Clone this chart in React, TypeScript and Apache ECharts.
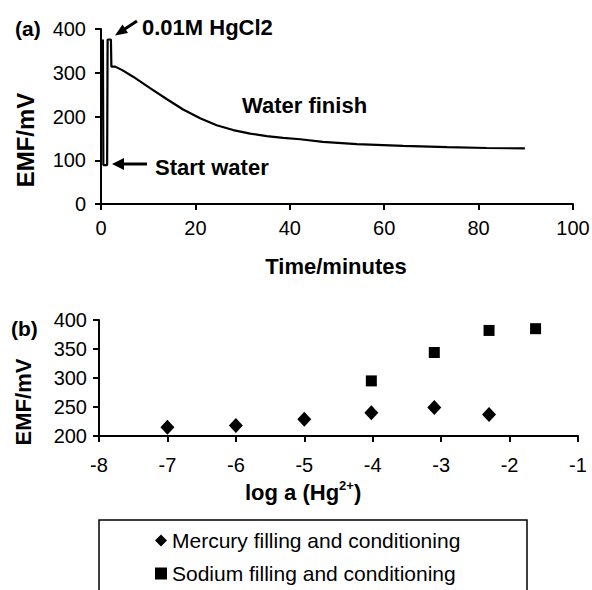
import React, { useEffect, useRef } from "react";
import * as echarts from "echarts";

// Panel (a): EMF vs time
const timeMin = [0.4, 0.5, 1.3, 1.4, 2.1, 2.2, 3.0, 4.5, 6.8, 10.4, 13.9, 17.4, 21, 24.5, 28, 31.6, 35.1, 38.6, 42.2, 47, 54.2, 64, 73.3, 81.7, 89.8];
const emfA = [376, 89, 89, 376, 376, 314, 314, 306, 291, 265, 240, 216, 196, 180, 169, 161, 155, 151, 148, 142, 137, 133, 130, 128, 127];

// Panel (b): EMF vs log a(Hg2+)
const mercuryLogA = [-7, -6, -5, -4.02, -3.1, -2.3];
const mercuryEmf = [215, 218, 229, 240, 249, 237];
const sodiumLogA = [-4.02, -3.1, -2.3, -1.62];
const sodiumEmf = [295, 344, 382, 385];

const seriesNames = ["Mercury filling and conditioning", "Sodium filling and conditioning"];
const xTicksA = { min: 0, max: 100, interval: 20 };
const yTicksA = { min: 0, max: 400, interval: 100 };
const xTicksB = { min: -8, max: -1, interval: 1 };
const yTicksB = { min: 200, max: 400, interval: 50 };

const FONT = "'Liberation Sans', Arial, Helvetica, sans-serif";

function axisCommon(labelMargin: number) {
  return {
    axisLine: { show: true, onZero: false, lineStyle: { color: "#000", width: 2 } },
    axisTick: { show: true, inside: false, length: 6, lineStyle: { color: "#000", width: 2 } },
    axisLabel: { color: "#000", fontSize: 20, fontFamily: FONT, margin: labelMargin },
    splitLine: { show: false },
  };
}

function txt(text: string, x: number, y: number, size: number, bold: boolean, extra: any = {}) {
  return {
    type: "text",
    x,
    y,
    ...extra,
    style: {
      text,
      fill: "#000",
      fontSize: size,
      fontWeight: bold ? "bold" : "normal",
      fontFamily: FONT,
      align: extra.align || "left",
      verticalAlign: "middle",
      ...(extra.style || {}),
    },
  };
}

export default function App() {
  const ref = useRef<HTMLDivElement>(null);
  useEffect(() => {
    document.body.style.margin = "0";
    const chart = echarts.init(ref.current!, null, { renderer: "svg" });
    const option: any = {
      animation: false,
      backgroundColor: "#fff",
      grid: [
        { left: 101, right: 19, top: 29, bottom: 386, containLabel: false, outerBoundsMode: "none" },
        { left: 99, right: 14, top: 320, bottom: 154, containLabel: false, outerBoundsMode: "none" },
      ],
      xAxis: [
        { type: "value", gridIndex: 0, ...xTicksA, ...axisCommon(14) },
        { type: "value", gridIndex: 1, ...xTicksB, ...axisCommon(19) },
      ],
      yAxis: [
        { type: "value", gridIndex: 0, ...yTicksA, ...axisCommon(15) },
        { type: "value", gridIndex: 1, ...yTicksB, ...axisCommon(12) },
      ],
      legend: {
        orient: "vertical",
        left: 155,
        top: 530,
        height: 70,
        width: 400,
        padding: 0,
        itemGap: 12,
        itemWidth: 12,
        itemHeight: 12,
        data: seriesNames,
        textStyle: { color: "#000", fontSize: 21, fontFamily: FONT },
      },
      series: [
        {
          type: "line",
          xAxisIndex: 0,
          yAxisIndex: 0,
          data: timeMin.map((t, i) => [t, emfA[i]]),
          showSymbol: false,
          symbol: "none",
          lineStyle: { color: "#000", width: 2.2 },
          itemStyle: { color: "#000" },
        },
        {
          name: seriesNames[0],
          type: "scatter",
          xAxisIndex: 1,
          yAxisIndex: 1,
          symbol: "diamond",
          symbolSize: [14, 15],
          itemStyle: { color: "#000", opacity: 1 },
          data: mercuryLogA.map((x, i) => [x, mercuryEmf[i]]),
        },
        {
          name: seriesNames[1],
          type: "scatter",
          xAxisIndex: 1,
          yAxisIndex: 1,
          symbol: "rect",
          symbolSize: 11,
          itemStyle: { color: "#000", opacity: 1 },
          data: sodiumLogA.map((x, i) => [x, sodiumEmf[i]]),
        },
      ],
      graphic: [
        txt("(a)", 15, 28, 21, true),
        txt("(b)", 11, 328, 21, true),
        txt("EMF/mV", 25, 140, 24, true, { rotation: Math.PI / 2, align: "center" }),
        txt("EMF/mV", 23, 402, 22, true, { rotation: Math.PI / 2, align: "center" }),
        txt("0.01M HgCl2", 142, 27, 22, true),
        txt("Water finish", 242, 105, 22, true),
        txt("Start water", 155, 167, 22, true),
        txt("Time/minutes", 336, 266, 22, true, { align: "center" }),
        {
          type: "text",
          x: 245,
          y: 492,
          style: {
            text: "log a (Hg{sup|2+})",
            fill: "#000",
            fontSize: 22,
            fontWeight: "bold",
            fontFamily: FONT,
            align: "left",
            verticalAlign: "middle",
            rich: { sup: { fontSize: 13, fontWeight: "bold", fontFamily: FONT, fill: "#000", padding: [0, 0, 14, 0] } },
          },
        },
        // legend frame (bottom edge falls outside the picture)
        {
          type: "rect",
          shape: { x: 99, y: 520, width: 428, height: 100 },
          style: { fill: "none", stroke: "#000", lineWidth: 1.5 },
        },
        // arrow to "Start water"
        { type: "line", shape: { x1: 147, y1: 164, x2: 120, y2: 164 }, style: { stroke: "#000", lineWidth: 3 } },
        { type: "polygon", shape: { points: [[112, 164], [124, 158], [124, 170]] }, style: { fill: "#000" } },
        // arrow to HgCl2 addition
        { type: "line", shape: { x1: 137, y1: 21, x2: 124, y2: 29.5 }, style: { stroke: "#000", lineWidth: 3 } },
        { type: "polygon", shape: { points: [[115, 35.5], [128, 33], [122.5, 24.5]] }, style: { fill: "#000" } },
      ],
    };
    chart.setOption(option);
    return () => chart.dispose();
  }, []);
  return <div ref={ref} style={{ width: 592, height: 590, position: "absolute", left: 0, top: 0 }} />;
}
